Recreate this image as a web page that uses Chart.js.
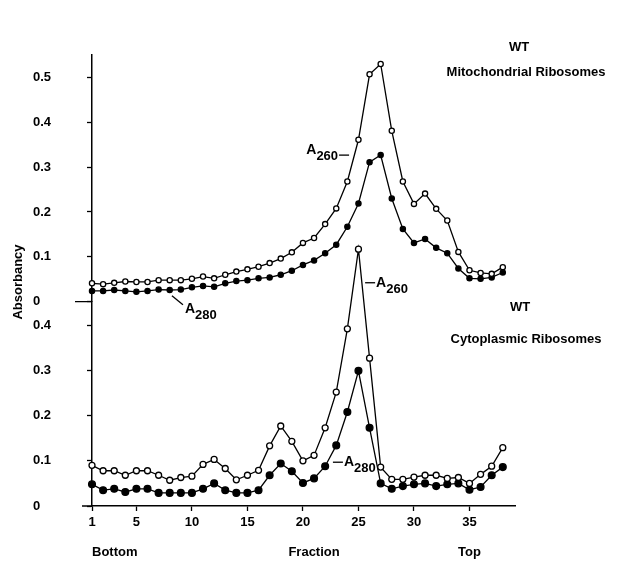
<!DOCTYPE html>
<html>
<head>
<meta charset="utf-8">
<script src="https://cdn.jsdelivr.net/npm/chart.js@4.4.0/dist/chart.umd.min.js"></script>
<style>
html, body { margin: 0; padding: 0; background: #fff; }
</style>
</head>
<body>
<canvas id="myChart" width="627" height="561"></canvas>
<script>
// fraction numbers (bottom -> top of gradient)
const fractions = [1, 2, 3, 4, 5, 6, 7, 8, 9, 10, 11, 12, 13, 14, 15, 16, 17, 18, 19,
  20, 21, 22, 23, 24, 25, 26, 27, 28, 29, 30, 31, 32, 33, 34, 35, 36, 37, 38];
const xTickValues = [1, 5, 10, 15, 20, 25, 30, 35];

// mitochondrial ribosomes (upper panel)
const mitoA260 = [0.041, 0.039, 0.042, 0.045, 0.044, 0.044, 0.048, 0.048, 0.048, 0.051,
  0.056, 0.052, 0.060, 0.067, 0.072, 0.078, 0.086, 0.096, 0.110, 0.131, 0.142, 0.173,
  0.208, 0.268, 0.361, 0.507, 0.530, 0.381, 0.268, 0.218, 0.241, 0.207, 0.181, 0.111,
  0.070, 0.064, 0.062, 0.077];
const mitoA280 = [0.024, 0.024, 0.026, 0.024, 0.022, 0.024, 0.027, 0.026, 0.027, 0.032,
  0.035, 0.033, 0.041, 0.046, 0.048, 0.052, 0.054, 0.060, 0.069, 0.082, 0.092, 0.108,
  0.127, 0.167, 0.219, 0.311, 0.327, 0.230, 0.162, 0.131, 0.140, 0.120, 0.108, 0.074,
  0.052, 0.051, 0.054, 0.065];

// cytoplasmic ribosomes (lower panel)
const cytoA260 = [0.090, 0.078, 0.078, 0.068, 0.078, 0.078, 0.068, 0.057, 0.063, 0.066,
  0.092, 0.103, 0.083, 0.058, 0.068, 0.079, 0.133, 0.177, 0.143, 0.100, 0.112, 0.173,
  0.252, 0.392, 0.568, 0.327, 0.086, 0.059, 0.059, 0.064, 0.068, 0.068, 0.061, 0.063,
  0.050, 0.070, 0.088, 0.129];
const cytoA280 = [0.048, 0.035, 0.038, 0.031, 0.038, 0.038, 0.029, 0.029, 0.029, 0.029,
  0.038, 0.050, 0.035, 0.029, 0.029, 0.035, 0.068, 0.094, 0.077, 0.051, 0.061, 0.088,
  0.134, 0.208, 0.299, 0.173, 0.050, 0.038, 0.044, 0.048, 0.050, 0.044, 0.048, 0.050,
  0.036, 0.042, 0.068, 0.086];

const pts = arr => arr.map((v, i) => ({ x: fractions[i], y: v }));
const FONT = '"Liberation Sans", Arial, sans-serif';

function series(data, axis, filled, r) {
  return {
    data: pts(data),
    yAxisID: axis,
    borderColor: '#000',
    borderWidth: 1.3,
    pointRadius: r,
    pointBorderWidth: 1.3,
    pointBorderColor: '#000',
    pointBackgroundColor: filled ? '#000' : '#fff',
    tension: 0,
    clip: false
  };
}

// A with subscript wavelength
function drawA(ctx, x, y, sub, dashLeft, dashRight) {
  ctx.font = 'bold 14px ' + FONT;
  ctx.textBaseline = 'alphabetic';
  ctx.textAlign = 'left';
  let cx = x;
  if (dashLeft) {
    ctx.beginPath(); ctx.moveTo(cx, y - 4); ctx.lineTo(cx + 10, y - 4); ctx.stroke();
    cx += 11;
  }
  ctx.fillText('A', cx, y);
  cx += ctx.measureText('A').width;
  ctx.font = 'bold 13px ' + FONT;
  ctx.fillText(sub, cx, y + 6);
  cx += ctx.measureText(sub).width;
  if (dashRight) {
    ctx.beginPath(); ctx.moveTo(cx + 1, y + 1); ctx.lineTo(cx + 11, y + 1); ctx.stroke();
  }
}

const extras = {
  id: 'extras',
  afterDraw(chart) {
    const ctx = chart.ctx;
    const xs = chart.scales.x, yt = chart.scales.yTop, yb = chart.scales.yBot;
    const area = chart.chartArea;
    ctx.save();
    ctx.fillStyle = '#000';
    ctx.strokeStyle = '#000';
    ctx.lineWidth = 1.3;

    // axis stubs
    ctx.beginPath();
    ctx.moveTo(area.left - 17, yt.getPixelForValue(0));
    ctx.lineTo(area.left, yt.getPixelForValue(0));
    ctx.moveTo(area.left - 10, yb.getPixelForValue(0));
    ctx.lineTo(area.left, yb.getPixelForValue(0));
    ctx.stroke();

    // panel titles
    ctx.font = 'bold 13px ' + FONT;
    ctx.textAlign = 'center';
    ctx.textBaseline = 'middle';
    ctx.fillText('WT', 519, 47);
    ctx.fillText('Mitochondrial Ribosomes', 526, 72);
    ctx.fillText('WT', 520, 307);
    ctx.fillText('Cytoplasmic Ribosomes', 526, 339);

    // x-axis captions
    ctx.fillText('Fraction', xs.getPixelForValue(21), 552);
    ctx.textAlign = 'left';
    ctx.fillText('Bottom', xs.getPixelForValue(1), 552);
    ctx.textAlign = 'center';
    ctx.fillText('Top', xs.getPixelForValue(35), 552);

    // y caption
    ctx.save();
    ctx.translate(18, 282);
    ctx.rotate(-Math.PI / 2);
    ctx.fillText('Absorbancy', 0, 0);
    ctx.restore();

    // curve labels
    drawA(ctx, xs.getPixelForValue(20.3), yt.getPixelForValue(0.329), '260', false, true);
    // A280 leader (upper)
    const lx = xs.getPixelForValue(8.2), ly = yt.getPixelForValue(0.013);
    ctx.beginPath(); ctx.moveTo(lx, ly); ctx.lineTo(lx + 11, ly + 9); ctx.stroke();
    drawA(ctx, lx + 13, ly + 17, '280', false, false);
    drawA(ctx, xs.getPixelForValue(25.6), yb.getPixelForValue(0.485), '260', true, false);
    drawA(ctx, xs.getPixelForValue(22.7), yb.getPixelForValue(0.088), '280', true, false);
    ctx.restore();
  }
};

const tickFmt = v => (v === 0 ? '0' : v.toFixed(1));
const yCommon = {
  type: 'linear',
  position: 'left',
  stack: 'abs',
  min: 0,
  grid: { display: true, drawOnChartArea: false, tickLength: 5, color: '#000', tickWidth: 1.3 },
  border: { display: true, color: '#000', width: 1.5 },
  ticks: {
    stepSize: 0.1,
    includeBounds: false,
    crossAlign: 'far',
    color: '#000',
    font: { family: FONT, size: 13, weight: 'bold' },
    callback: tickFmt
  },
  afterFit(scale) { scale.width = 59; }
};

const ctx = document.getElementById('myChart');
const myChart = new Chart(ctx, {
  type: 'line',
  data: {
    datasets: [
      series(mitoA260, 'yTop', false, 2.6),
      series(mitoA280, 'yTop', true, 2.6),
      series(cytoA260, 'yBot', false, 3),
      series(cytoA280, 'yBot', true, 3.4)
    ]
  },
  options: {
    responsive: false,
    animation: false,
    devicePixelRatio: 1,
    layout: { padding: { top: 55, left: 33, right: 112, bottom: 0 } },
    plugins: { legend: { display: false }, tooltip: { enabled: false } },
    scales: {
      x: {
        type: 'linear',
        min: 1,
        max: 39.1,
        grid: { display: true, drawOnChartArea: false, tickLength: 5, color: '#000', tickWidth: 1.3 },
        border: { display: true, color: '#000', width: 1.5 },
        ticks: { color: '#000', padding: 4, font: { family: FONT, size: 13, weight: 'bold' } },
        afterBuildTicks(scale) { scale.ticks = xTickValues.map(v => ({ value: v })); },
        afterFit(scale) { scale.height = 55; }
      },
      // left stacks are laid out in reverse, so the lower panel is listed first
      yBot: Object.assign({}, yCommon, { max: 0.452, stackWeight: 204.2 }),
      yTop: Object.assign({}, yCommon, { max: 0.55, stackWeight: 246.5 })
    }
  },
  plugins: [extras]
});
</script>
</body>
</html>
